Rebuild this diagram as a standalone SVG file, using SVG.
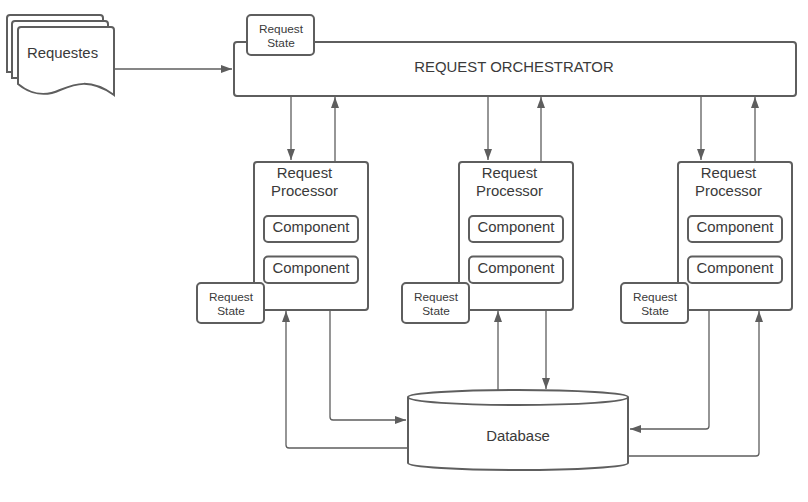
<svg xmlns="http://www.w3.org/2000/svg" width="808" height="502" viewBox="0 0 808 502">
<defs>
<marker id="a" markerUnits="userSpaceOnUse" markerWidth="11" markerHeight="8" refX="11" refY="4" orient="auto"><path d="M0 0L11 4L0 8Z" fill="#5e5e5e"/></marker>
<g id="proc">
<rect x="0" y="0" width="114" height="148" rx="3" class="b"/>
<text x="50.500" y="15.500" class="t16">Request</text>
<text x="50.500" y="33.500" class="t16">Processor</text>
<rect x="10" y="54" width="94" height="26" rx="4" class="b"/>
<text x="57" y="69.500" class="t16">Component</text>
<rect x="10" y="94.500" width="94" height="26.500" rx="4" class="b"/>
<text x="57" y="110.500" class="t16">Component</text>
<rect x="-57" y="121" width="67" height="40" rx="4" class="b"/>
<text x="-23" y="138.500" class="t12">Request</text>
<text x="-23" y="153" class="t12">State</text>
</g>
</defs>
<style>
text{font-family:"Liberation Sans",Arial,sans-serif;fill:#3a3a3a;text-anchor:middle}
.t16{font-size:14.9px}.t12{font-size:11.8px}
.b{fill:#fff;stroke:#5e5e5e;stroke-width:2}
.c{fill:none;stroke:#5e5e5e;stroke-width:1.3;marker-end:url(#a)}
</style>
<rect width="808" height="502" fill="#fff"/>
<g id="connectors">
<path class="c" d="M115 69H232"/>
<path class="c" d="M291 96V160"/>
<path class="c" d="M335 161V97"/>
<path class="c" d="M488 96V160"/>
<path class="c" d="M541 161V97"/>
<path class="c" d="M701 96V160"/>
<path class="c" d="M755 161V97"/>
<path class="c" d="M408 448H289Q286 448 286 445V311"/>
<path class="c" d="M330 310V417Q330 420 333 420H406"/>
<path class="c" d="M498 390V311"/>
<path class="c" d="M546 310V389"/>
<path class="c" d="M709 310V426Q709 429 706 429H630"/>
<path class="c" d="M628 456H756Q759 456 759 453V311"/>
</g>
<g id="requests">
<path class="b" d="M7 72V18Q7 15 10 15H100Q103 15 103 18V72Z"/>
<path class="b" d="M12 78V24Q12 21 15 21H105Q108 21 108 24V78Z"/>
<path class="b" d="M18 84V30Q18 27 21 27H111Q114 27 114 30V95C90 78 75 84 60 90C45 97 30 94 18 84Z"/>
<text x="62.500" y="58" class="t16">Requestes</text>
</g>
<g id="orchestrator">
<rect x="234" y="42" width="562" height="54" rx="3" class="b"/>
<text x="514" y="71.500" class="t16">REQUEST ORCHESTRATOR</text>
</g>
<g id="orchestrator-state">
<rect x="247" y="15" width="67" height="40" rx="4" class="b"/>
<text x="281" y="33" class="t12">Request</text>
<text x="281" y="47" class="t12">State</text>
</g>
<g id="processor-1"><use href="#proc" x="254" y="162"/></g>
<g id="processor-2"><use href="#proc" x="459" y="162"/></g>
<g id="processor-3"><use href="#proc" x="678" y="162"/></g>
<g id="database">
<path class="b" d="M408 397C408 393 460 390 518 390C576 390 628 393 628 397V463C628 467 576 470 518 470C460 470 408 467 408 463Z"/>
<path class="b" fill="none" style="fill:none" d="M408 397C408 402 460 405 518 405C576 405 628 402 628 397"/>
<text x="518" y="441" class="t16">Database</text>
</g>
</svg>
